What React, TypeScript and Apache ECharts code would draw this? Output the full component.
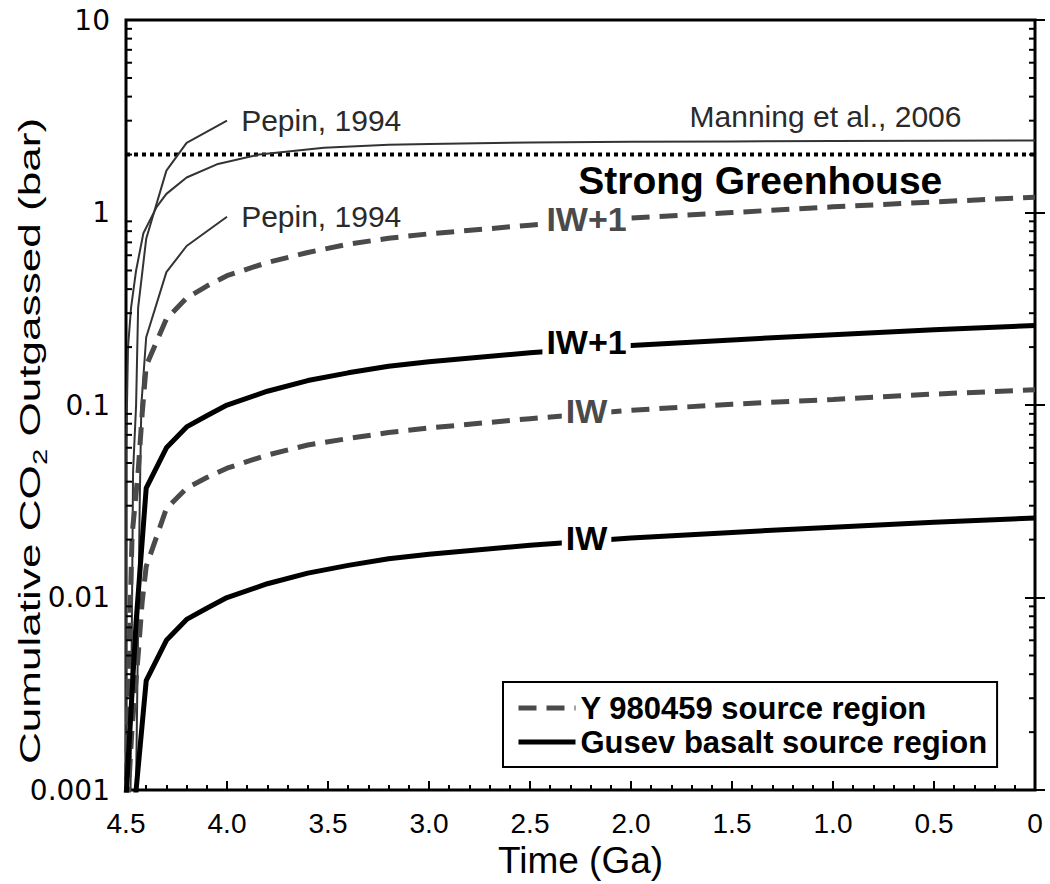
import React, { useEffect, useRef } from "react";
import * as echarts from "echarts";

// ---- data ----
const xTicks = ["4.5", "4.0", "3.5", "3.0", "2.5", "2.0", "1.5", "1.0", "0.5", "0"];
const yTickLabels = ["0.001", "0.01", "0.1", "1", "10"];

const gusevAges = [4.5, 4.45, 4.4, 4.3, 4.2, 4.1, 4.0, 3.8, 3.6, 3.4, 3.2, 3.0, 2.5, 2.0, 1.5, 1.0, 0.5, 0];
const gusevIW1 = [0.0009, 0.0075, 0.037, 0.060, 0.077, 0.088, 0.100, 0.118, 0.134, 0.147, 0.159, 0.168, 0.187, 0.204, 0.218, 0.232, 0.246, 0.259];
const gusevIW = [0.0002, 0.001, 0.0037, 0.0060, 0.0077, 0.0088, 0.0100, 0.0118, 0.0134, 0.0147, 0.0159, 0.0168, 0.0187, 0.0204, 0.0218, 0.0232, 0.0246, 0.0259];

const yAges = [4.5, 4.49, 4.47, 4.44, 4.42, 4.4, 4.3, 4.2, 4.1, 4.0, 3.8, 3.6, 3.4, 3.2, 3.0, 2.5, 2.0, 1.5, 1.0, 0.5, 0];
const yIW1 = [0.0008, 0.003, 0.021, 0.045, 0.09, 0.16, 0.28, 0.36, 0.415, 0.47, 0.55, 0.62, 0.685, 0.735, 0.775, 0.86, 0.935, 1.0, 1.07, 1.135, 1.2];
const yIW = [0.0006, 0.0009, 0.0021, 0.005, 0.0095, 0.0145, 0.029, 0.037, 0.042, 0.047, 0.055, 0.062, 0.067, 0.072, 0.076, 0.085, 0.094, 0.101, 0.107, 0.114, 0.12];

const manningAges = [4.5, 4.499, 4.49, 4.475, 4.45, 4.414, 4.348, 4.3, 4.2, 4.05, 3.84, 3.52, 3.2, 3.0, 2.5, 2.0, 1.5, 1.0, 0.5, 0];
const manning = [0.0005, 0.06, 0.2, 0.32, 0.5, 0.78, 1.07, 1.25, 1.52, 1.78, 2.0, 2.17, 2.25, 2.27, 2.31, 2.33, 2.34, 2.35, 2.36, 2.37];

const pepinHighAges = [4.5, 4.465, 4.45, 4.44, 4.4, 4.3, 4.2, 4.0];
const pepinHigh = [0.000001, 0.045, 0.1, 0.32, 0.73, 1.65, 2.3, 3.0];
const pepinLowAges = [4.5, 4.432, 4.424, 4.4, 4.3, 4.2, 4.0];
const pepinLow = [0.0000001, 0.031, 0.1, 0.225, 0.49, 0.67, 0.95];

const greenhouseAges = [4.5, 0];
const greenhouse = [2, 2];

const seriesNames = ["Y 980459 source region", "Gusev basalt source region"];

// text annotations anchored in data coordinates
const annotations = [
  { text: "IW+1", age: 2.22, value: 0.92, kind: "curveGray" },
  { text: "IW+1", age: 2.22, value: 0.212, kind: "curveBlack" },
  { text: "IW", age: 2.22, value: 0.093, kind: "curveGray" },
  { text: "IW", age: 2.22, value: 0.0204, kind: "curveBlack" },
  { text: "Pepin, 1994", age: 3.93, value: 3.0, kind: "ref" },
  { text: "Pepin, 1994", age: 3.93, value: 0.95, kind: "ref" },
  { text: "Manning et al., 2006", age: 1.71, value: 3.15, kind: "ref" },
  { text: "Strong Greenhouse", age: 1.36, value: 1.47, kind: "title" },
];

const minorTickValues: number[] = [];
for (const e of [-3, -2, -1, 0]) {
  for (const m of [2, 3, 4, 5, 6, 7, 8, 9]) minorTickValues.push(+(m * Math.pow(10, e)).toPrecision(3));
}

const FONT = "Liberation Sans, Arial, Helvetica, sans-serif";
const GRAY = "#4a4a4a";

function zip(a: number[], b: number[]) {
  return a.map((x, i) => [x, b[i]]);
}

function annotationStyle(kind: string, text: string) {
  if (kind === "curveGray" || kind === "curveBlack") {
    return {
      text,
      fill: kind === "curveGray" ? GRAY : "#000",
      font: `bold 34px ${FONT}`,
      align: "center",
      verticalAlign: "middle",
      backgroundColor: "#fff",
      padding: [0, 4],
    };
  }
  if (kind === "title") {
    return { text, fill: "#000", font: `bold 39px ${FONT}`, align: "center", verticalAlign: "middle" };
  }
  return { text, fill: "#2a2a2a", font: `30px ${FONT}`, align: "left", verticalAlign: "middle" };
}

export default function App() {
  const ref = useRef<HTMLDivElement>(null);
  useEffect(() => {
    if (!ref.current) return;
    const chart = echarts.init(ref.current, null, { renderer: "svg" });
    const tickStyle = { color: "#000", width: 2 };
    const option: any = {
      animation: false,
      backgroundColor: "#fff",
      grid: { left: 126, right: 15, top: 20, bottom: 79, show: true, borderColor: "#000", borderWidth: 3, backgroundColor: "transparent" },
      legend: {
        data: seriesNames,
        orient: "vertical",
        left: 503,
        top: 682,
        padding: [10, 10, 9, 13],
        borderColor: "#000",
        borderWidth: 2,
        backgroundColor: "#fff",
        itemWidth: 57,
        itemHeight: 14,
        itemGap: 2,
        selectedMode: false,
        itemStyle: { opacity: 0 },
        lineStyle: { width: 5 },
        textStyle: { fontSize: 31, fontWeight: "bold", fontFamily: FONT, color: "#000", lineHeight: 32 },
      },
      xAxis: {
        type: "value",
        min: 0,
        max: 4.5,
        interval: 0.5,
        inverse: true,
        axisLine: { show: false },
        axisTick: { show: true, inside: true, length: 9, lineStyle: tickStyle },
        minorTick: { show: true, splitNumber: 5, length: 5, lineStyle: tickStyle },
        splitLine: { show: false },
        axisLabel: {
          fontSize: 28,
          color: "#000",
          fontFamily: FONT,
          margin: 19,
          formatter: (v: number) => xTicks[Math.round((4.5 - v) / 0.5)],
        },
        name: "Time (Ga)",
        nameLocation: "middle",
        nameGap: 45,
        nameTextStyle: { fontSize: 37, color: "#000", fontFamily: FONT },
      },
      yAxis: [
        {
          type: "log",
          logBase: 10,
          min: 0.001,
          max: 10,
          position: "left",
          axisLine: { show: false },
          axisTick: { show: true, inside: true, length: 10, lineStyle: tickStyle },
          splitLine: { show: false },
          axisLabel: {
            fontSize: 28,
            color: "#000",
            fontFamily: "DejaVu Sans, sans-serif",
            margin: 16,
            formatter: (v: number) => yTickLabels[Math.round(Math.log10(v)) + 3],
          },
        },
        {
          type: "log",
          logBase: 10,
          min: 0.001,
          max: 10,
          position: "right",
          axisLine: { show: false },
          axisTick: { show: true, inside: true, length: 10, lineStyle: tickStyle },
          splitLine: { show: false },
          axisLabel: { show: false },
        },
      ],
      graphic: [
        {
          type: "text",
          x: 30,
          y: 441,
          rotation: Math.PI / 2,
          scaleX: 1.47,
          scaleY: 1,
          style: {
            text: "{m|Cumulative CO}{s|2}{m| Outgassed (bar)}",
            align: "center",
            verticalAlign: "middle",
            rich: {
              m: { fontSize: 30, fontFamily: FONT, fill: "#000", lineHeight: 40 },
              s: { fontSize: 20, fontFamily: FONT, fill: "#000", lineHeight: 20, verticalAlign: "bottom" },
            },
          },
        },
      ],
      series: [
        {
          type: "custom",
          name: "minor-ticks",
          silent: true,
          clip: false,
          data: minorTickValues.map((v) => [4.5, v]),
          renderItem: (params: any, api: any) => {
            const v = api.value(1);
            const pl = api.coord([4.5, v]);
            const pr = api.coord([0, v]);
            const st = { stroke: "#000", lineWidth: 2 };
            return {
              type: "group",
              children: [
                { type: "line", shape: { x1: pl[0], y1: pl[1], x2: pl[0] + 6, y2: pl[1] }, style: st },
                { type: "line", shape: { x1: pr[0] - 6, y1: pr[1], x2: pr[0], y2: pr[1] }, style: st },
              ],
            };
          },
          z: 5,
        },
        {
          type: "line",
          name: "Strong Greenhouse line",
          data: zip(greenhouseAges, greenhouse),
          symbol: "none",
          lineStyle: { color: "#000", width: 4, type: [4, 4] },
          z: 2,
        },
        {
          type: "line",
          name: "Manning et al., 2006",
          data: zip(manningAges, manning),
          symbol: "none",
          lineStyle: { color: "#333", width: 2 },
          z: 2,
        },
        {
          type: "line",
          name: "Pepin high",
          data: zip(pepinHighAges, pepinHigh),
          symbol: "none",
          lineStyle: { color: "#333", width: 2 },
          z: 2,
        },
        {
          type: "line",
          name: "Pepin low",
          data: zip(pepinLowAges, pepinLow),
          symbol: "none",
          lineStyle: { color: "#333", width: 2 },
          z: 2,
        },
        {
          type: "line",
          name: seriesNames[0],
          data: zip(yAges, yIW1),
          symbol: "none",
          itemStyle: { color: GRAY },
          lineStyle: { color: GRAY, width: 5, type: [18, 10] },
          z: 3,
        },
        {
          type: "line",
          name: seriesNames[0],
          data: zip(yAges, yIW),
          symbol: "none",
          itemStyle: { color: GRAY },
          lineStyle: { color: GRAY, width: 5, type: [18, 10] },
          z: 3,
        },
        {
          type: "line",
          name: seriesNames[1],
          data: zip(gusevAges, gusevIW1),
          symbol: "none",
          itemStyle: { color: "#000" },
          lineStyle: { color: "#000", width: 5 },
          z: 3,
        },
        {
          type: "line",
          name: seriesNames[1],
          data: zip(gusevAges, gusevIW),
          symbol: "none",
          itemStyle: { color: "#000" },
          lineStyle: { color: "#000", width: 5 },
          z: 3,
        },
        {
          type: "custom",
          name: "annotations",
          silent: true,
          clip: false,
          z: 10,
          data: annotations.map((a) => [a.age, a.value]),
          renderItem: (params: any, api: any) => {
            const a = annotations[params.dataIndex];
            const p = api.coord([api.value(0), api.value(1)]);
            return { type: "text", x: p[0], y: p[1], style: annotationStyle(a.kind, a.text) };
          },
        },
      ],
    };
    chart.setOption(option);
    return () => chart.dispose();
  }, []);
  return <div ref={ref} style={{ position: "absolute", left: 0, top: 0, width: 1050, height: 884 }} />;
}
